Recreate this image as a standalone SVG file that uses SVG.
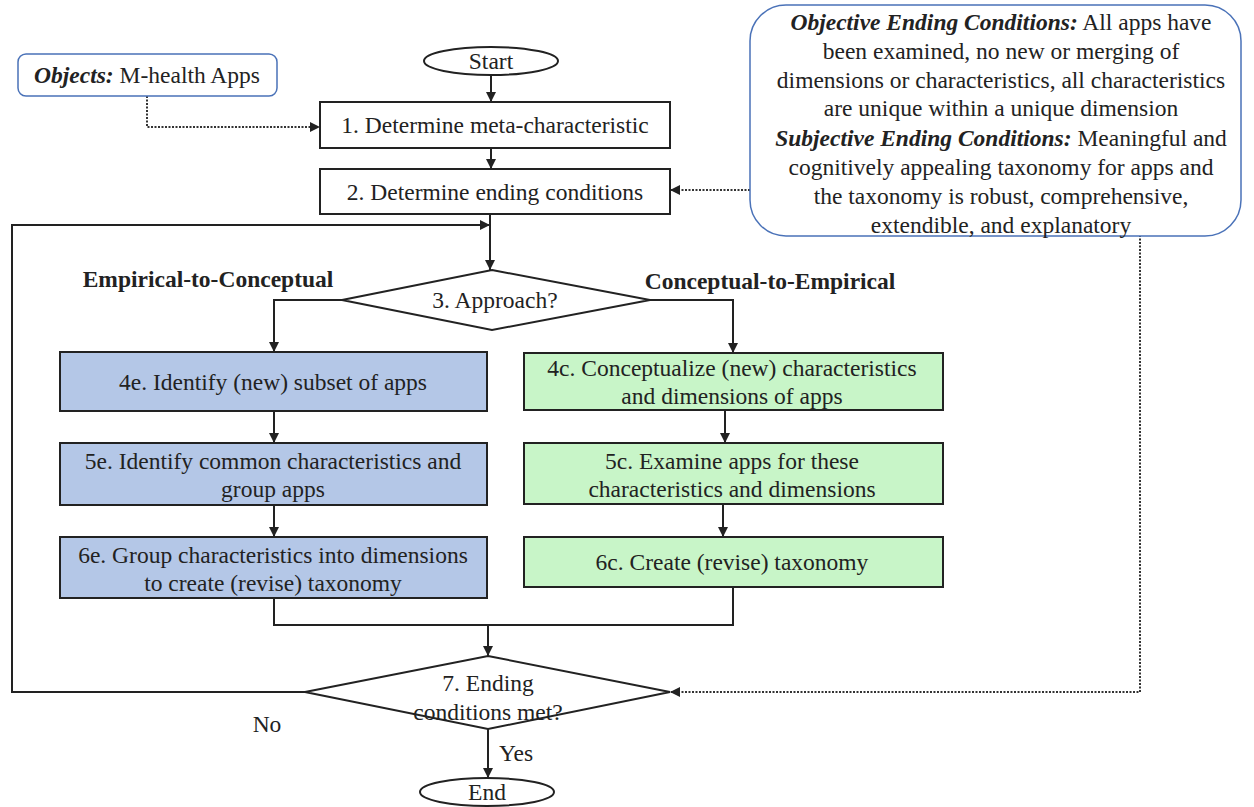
<svg xmlns="http://www.w3.org/2000/svg" width="1254" height="807" viewBox="0 0 1254 807">
<style>
text{font-family:"Liberation Serif","Times New Roman",serif;font-size:23.5px;fill:#222;text-anchor:middle}
.b{font-weight:bold}
.bi{font-weight:bold;font-style:italic}
.box{fill:#fff;stroke:#222;stroke-width:2}
.blue{fill:#b4c7e7;stroke:#222;stroke-width:2}
.green{fill:#c8f5c8;stroke:#222;stroke-width:2}
.note{fill:#fff;stroke:#4a72b8;stroke-width:1.5}
.ln{fill:none;stroke:#222;stroke-width:2}
.dot{fill:none;stroke:#333;stroke-width:2;stroke-dasharray:2 1.5}
</style>
<defs>
<marker id="ah2" viewBox="0 0 10 10" refX="10" refY="5" markerWidth="10" markerHeight="10" orient="auto" markerUnits="userSpaceOnUse">
<path d="M0,0 L10,5 L0,10 z" fill="#222"/>
</marker>
</defs>
<rect width="1254" height="807" fill="#fff"/>
<g id="connectors">
<line class="ln" x1="491" y1="75" x2="491" y2="102" marker-end="url(#ah2)"/>
<line class="ln" x1="491" y1="148" x2="491" y2="169" marker-end="url(#ah2)"/>
<line class="ln" x1="490" y1="214" x2="490" y2="270" marker-end="url(#ah2)"/>
<polyline class="ln" points="305,692 12,692 12,225 490,225" marker-end="url(#ah2)"/>
<polyline class="ln" points="342,300 274,300 274,352" marker-end="url(#ah2)"/>
<polyline class="ln" points="650,300 733,300 733,353" marker-end="url(#ah2)"/>
<line class="ln" x1="274" y1="411" x2="274" y2="443" marker-end="url(#ah2)"/>
<line class="ln" x1="274" y1="505" x2="274" y2="537" marker-end="url(#ah2)"/>
<line class="ln" x1="725" y1="410" x2="725" y2="443" marker-end="url(#ah2)"/>
<line class="ln" x1="723" y1="504" x2="723" y2="537" marker-end="url(#ah2)"/>
<polyline class="ln" points="274,598 274,625 733,625 733,587"/>
<line class="ln" x1="488" y1="625" x2="488" y2="656" marker-end="url(#ah2)"/>
<line class="ln" x1="488" y1="729" x2="488" y2="778" marker-end="url(#ah2)"/>
<polyline class="dot" points="147,96 147,127 320,127" marker-end="url(#ah2)"/>
<line class="dot" x1="750" y1="190" x2="670" y2="190" marker-end="url(#ah2)"/>
<polyline class="dot" points="1140,228 1140,692 670,692" marker-end="url(#ah2)"/>
<text x="267" y="732">No</text>
<text x="516" y="761">Yes</text>
</g>
<g id="start">
<ellipse cx="491" cy="61" rx="67" ry="14" class="box"/>
<text x="491" y="69">Start</text>
</g>
<g id="objects">
<rect x="18" y="54" width="259" height="42" rx="8" class="note"/>
<text x="147" y="83"><tspan class="bi">Objects:</tspan> M-health Apps</text>
</g>
<g id="step1">
<rect x="320" y="102" width="350" height="46" class="box"/>
<text x="495" y="133">1. Determine meta-characteristic</text>
</g>
<g id="step2">
<rect x="320" y="169" width="350" height="45" class="box"/>
<text x="495" y="200">2. Determine ending conditions</text>
</g>
<g id="ending-conditions">
<rect x="750" y="5" width="491" height="231" rx="36" class="note"/>
<text x="1001" y="30"><tspan class="bi">Objective Ending Conditions:</tspan> All apps have</text>
<text x="1001" y="59">been examined, no new or merging of</text>
<text x="1001" y="88">dimensions or characteristics, all characteristics</text>
<text x="1001" y="116">are unique within a unique dimension</text>
<text x="1001" y="146"><tspan class="bi">Subjective Ending Conditions:</tspan> Meaningful and</text>
<text x="1001" y="175">cognitively appealing  taxonomy for apps and</text>
<text x="1001" y="204">the taxonomy is robust, comprehensive,</text>
<text x="1001" y="233">extendible, and explanatory</text>
</g>
<g id="label-ec">
<text x="208" y="287" class="b">Empirical-to-Conceptual</text>
</g>
<g id="label-ce">
<text x="770" y="289" class="b">Conceptual-to-Empirical</text>
</g>
<g id="step3">
<polygon points="492,270 650,300 492,330 342,300" class="box"/>
<text x="495" y="308">3. Approach?</text>
</g>
<g id="step4e">
<rect x="60" y="352" width="427" height="59" class="blue"/>
<text x="273" y="390">4e. Identify (new) subset of apps</text>
</g>
<g id="step5e">
<rect x="60" y="443" width="427" height="62" class="blue"/>
<text x="273" y="469">5e. Identify common characteristics and</text>
<text x="273" y="497">group apps</text>
</g>
<g id="step6e">
<rect x="60" y="537" width="427" height="61" class="blue"/>
<text x="273" y="563">6e. Group characteristics into dimensions</text>
<text x="273" y="591">to create (revise) taxonomy</text>
</g>
<g id="step4c">
<rect x="524" y="353" width="419" height="57" class="green"/>
<text x="732" y="376">4c. Conceptualize (new) characteristics</text>
<text x="732" y="404">and dimensions of apps</text>
</g>
<g id="step5c">
<rect x="524" y="443" width="419" height="61" class="green"/>
<text x="732" y="469">5c. Examine apps for these</text>
<text x="732" y="497">characteristics and dimensions</text>
</g>
<g id="step6c">
<rect x="524" y="537" width="419" height="50" class="green"/>
<text x="732" y="570">6c. Create (revise) taxonomy</text>
</g>
<g id="step7">
<polygon points="488,656 670,692 488,729 305,692" class="box"/>
<text x="488" y="691">7. Ending</text>
<text x="488" y="720">conditions met?</text>
</g>
<g id="end">
<ellipse cx="487" cy="792" rx="67" ry="14" class="box"/>
<text x="487" y="800">End</text>
</g>
</svg>
